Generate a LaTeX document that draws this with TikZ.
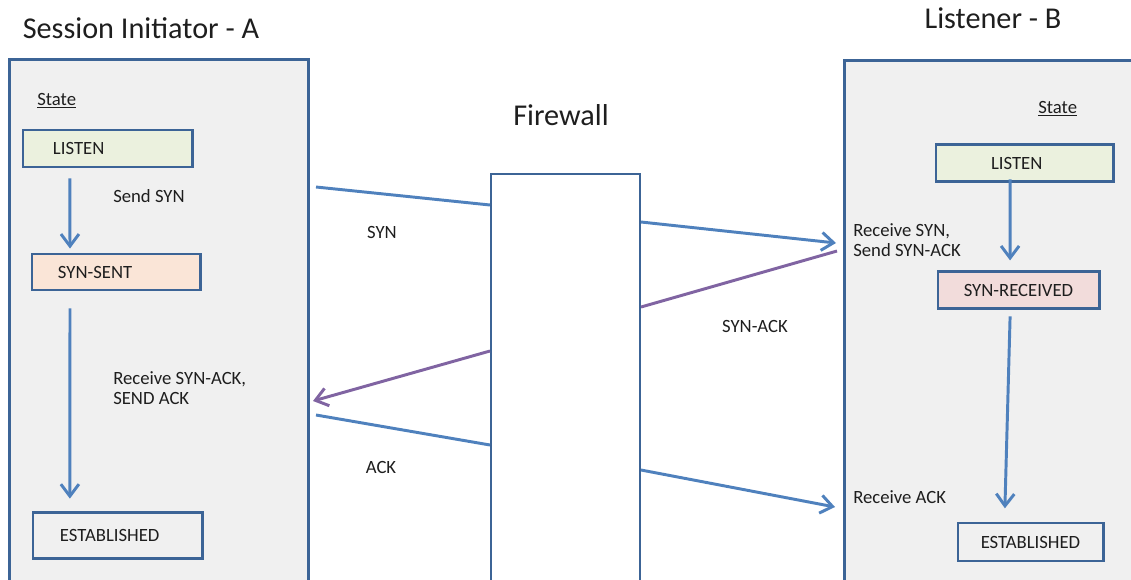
\documentclass[tikz,border=0pt]{standalone}
\usepackage{fontspec}
\setmainfont{Carlito}
\usepackage{tikz}
\usetikzlibrary{arrows.meta}
\definecolor{edge}{RGB}{60, 100, 150}
\definecolor{flowblue}{RGB}{79, 129, 189}
\definecolor{flowpurple}{RGB}{128, 100, 162}
\definecolor{panel}{RGB}{240, 240, 240}
\definecolor{listenfill}{RGB}{235, 241, 222}
\definecolor{sentfill}{RGB}{250, 229, 215}
\definecolor{recvfill}{RGB}{242, 220, 219}
\definecolor{ink}{RGB}{30, 30, 30}

\begin{document}
\begin{tikzpicture}[x=0.025cm, y=-0.025cm, >={Straight Barb[length=0.3cm, width=0.45cm]},
  every node/.style={text=ink, font=\fontsize{13.3}{14.2}\selectfont},
  title/.style={font=\fontsize{21.5}{24}\selectfont},
  hostbox/.style={draw=edge, line width=2.1pt, fill=panel},
  statebox/.style={draw=edge, line width=2.1pt},
  wire/.style={line width=2.1pt, flowblue},
  flow/.style={->, line width=2.1pt, flowblue},
  backwire/.style={line width=2.1pt, flowpurple},
  note/.style={anchor=west, inner sep=0pt, align=left}]
  \useasboundingbox (0,0) rectangle (1131,579);

  % Hosts and firewall
  \node[hostbox, minimum width=7.45cm, minimum height=13.25cm] (hostA) at (159,325) {};
  \node[hostbox, minimum width=7.5cm, minimum height=13.225cm] (hostB) at (995,325.5) {};
  \node[draw=edge, line width=2pt, fill=white, minimum width=3.725cm, minimum height=10.65cm] (fw) at (565.5,387) {};

  % Titles
  \node[title] (titleA) at (141,28) {Session Initiator - A};
  \node[title] (titleB) at (993,18) {Listener - B};
  \node[title] (titleFw) at (561,115) {Firewall};

  % Session initiator states
  \node[note] (stateA) at (37,101) {\underline{State}};
  \node[statebox, fill=listenfill, minimum height=0.925cm, text width=2.725cm, inner xsep=0.75cm, align=left] (aListen) at (107.5,148.5) {LISTEN};
  \node[statebox, fill=sentfill, minimum height=0.9cm, text width=2.9cm, inner xsep=0.65cm, align=left] (aSent) at (116,272) {SYN-SENT};
  \node[statebox, minimum height=1.15cm, text width=2.875cm, inner xsep=0.675cm, align=left] (aEst) at (117.5,535.5) {ESTABLISHED};
  \draw[flow] ([xshift=-0.94cm, yshift=-0.25cm]aListen.south) -- ([xshift=-1.15cm, yshift=0.1cm]aSent.north);
  \draw[flow] ([xshift=-1.15cm, yshift=-0.425cm]aSent.south) -- ([xshift=-1.19cm, yshift=0.31cm]aEst.north);
  \node[note] (sendSyn) at (113,196) {Send SYN};
  \node[note] (recvSynAck) at (113,388) {Receive SYN-ACK,\\SEND ACK};

  % Listener states
  \node[note] (stateB) at (1038,109) {\underline{State}};
  \node[statebox, fill=listenfill, minimum height=0.925cm, text width=1.675cm, inner xsep=1.375cm, align=left] (bListen) at (1024.5,163) {LISTEN};
  \node[statebox, fill=recvfill, minimum width=4.025cm, minimum height=0.925cm] (bRecv) at (1018.5,290) {SYN-RECEIVED};
  \node[statebox, minimum width=3.625cm, minimum height=0.95cm] (bEst) at (1030.5,542) {ESTABLISHED};
  \draw[flow] ([xshift=-0.36cm, yshift=0.09cm]bListen.south) -- ([xshift=-0.21cm, yshift=0.24cm]bRecv.north);
  \draw[flow] ([xshift=-0.21cm, yshift=-0.16cm]bRecv.south) -- ([xshift=-0.64cm, yshift=0.33cm]bEst.north);
  \node[note] (recvSyn) at (853,240) {Receive SYN,\\Send SYN-ACK};
  \node[note] (recvAck) at (853,497) {Receive ACK};

  % Handshake through the firewall
  \coordinate (synA) at (316,187);
  \coordinate (synB) at (490,205);
  \coordinate (synC) at (641,222);
  \coordinate (synD) at (836,243);
  \coordinate (saA) at (837,251);
  \coordinate (saB) at (641,307);
  \coordinate (saC) at (490,351);
  \coordinate (saD) at (313,401);
  \coordinate (ackA) at (316,415);
  \coordinate (ackB) at (490,445);
  \coordinate (ackC) at (641,470);
  \coordinate (ackD) at (835,507);
  \draw[wire] (synA) -- (synB);
  \draw[flow] (synC) -- (synD);
  \draw[backwire] (saA) -- (saB);
  \draw[backwire, ->] (saC) -- (saD);
  \draw[wire] (ackA) -- (ackB);
  \draw[flow] (ackC) -- (ackD);
  \node (synLbl) at (382,232) {SYN};
  \node (saLbl) at (755,326) {SYN-ACK};
  \node (ackLbl) at (381,467) {ACK};
\end{tikzpicture}
\end{document}
